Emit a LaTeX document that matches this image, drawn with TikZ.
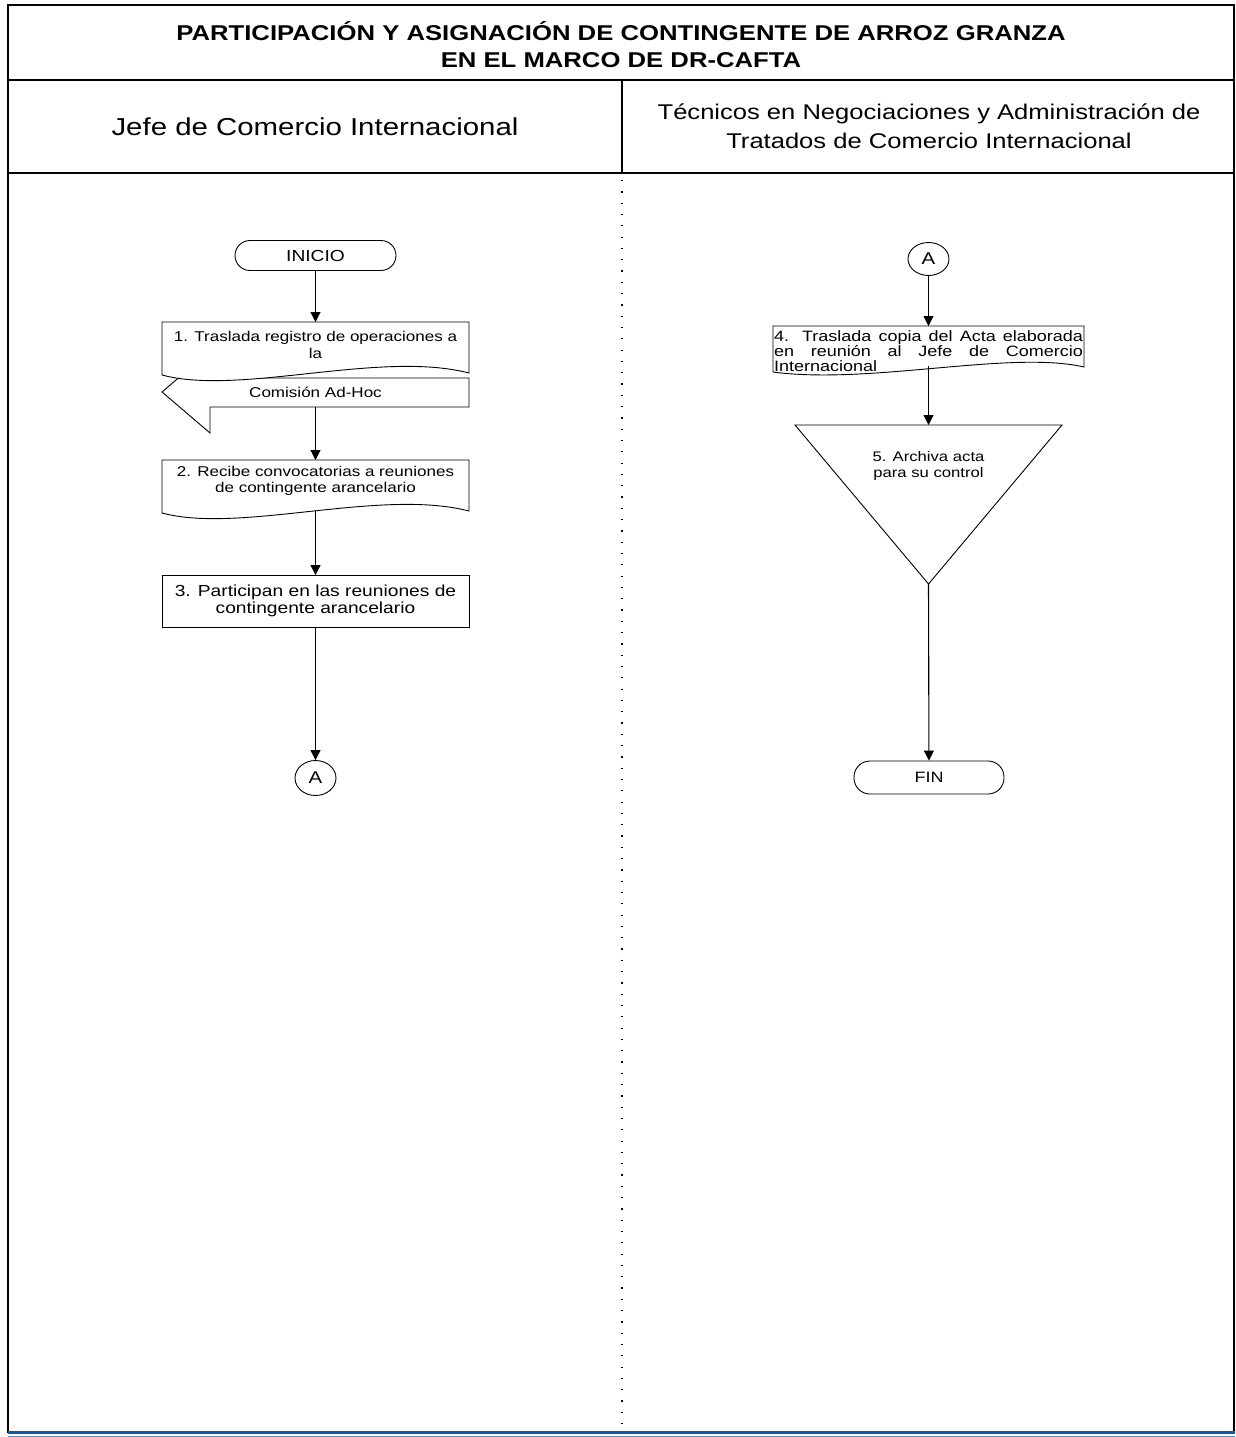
\documentclass[tikz,border=0pt]{standalone}
\usepackage{fontspec}
\setmainfont{Liberation Sans}[FakeStretch=1.2]
\usetikzlibrary{arrows.meta,shapes.geometric}
\definecolor{bluedark}{RGB}{16,88,170}
\definecolor{bluelight}{RGB}{80,145,215}
\begin{document}
\begin{tikzpicture}[x=1pt,y=-1pt,
  frame/.style={line width=1.8pt, line cap=rect},
  shp/.style={draw, line width=0.9pt, fill=white},
  conn/.style={line width=1.1pt, -{Triangle[length=10pt,width=10pt]}},
  txt/.style={inner sep=0pt, align=center, font=\fontsize{14.2}{16.3}\selectfont},
  lanetxt/.style={inner sep=0pt, align=center, font=\fontsize{24.5}{29}\selectfont},
  term/.style={draw, line width=0.9pt, rounded corners=15pt, minimum height=30pt, inner sep=0pt, font=\fontsize{16}{18}\selectfont},
  conbubble/.style={draw, ellipse, line width=0.9pt, minimum width=41pt, minimum height=35pt, inner sep=0pt, font=\fontsize{17}{18}\selectfont}
]
\useasboundingbox (0,0) rectangle (1235,1437);
\fill[white] (0,0) rectangle (1235,1437);

% frame and headers
\draw[frame] (8,5) rectangle (1234,1432);
\draw[frame] (8,80) -- (1234,80);
\draw[frame] (8,173) -- (1234,173);
\draw[frame] (622,80) -- (622,173);
\draw[line width=1.2pt, dash pattern=on 1.2pt off 10.1pt] (622,180) -- (622,1430);
\fill[bluedark] (8,1431) rectangle (1235,1434);
\fill[bluelight] (8,1435.5) rectangle (1235,1436.8);

\node[inner sep=0pt, align=center, font=\fontsize{21.4}{27}\selectfont\bfseries] (title) at (621,44.5)
  {PARTICIPACIÓN Y ASIGNACIÓN DE CONTINGENTE DE ARROZ GRANZA\\EN EL MARCO DE DR-CAFTA};
\node[lanetxt] (laneL) at (315,127) {Jefe de Comercio Internacional};
\node[lanetxt, font=\fontsize{21.3}{29}\selectfont] (laneR) at (929,126) {Técnicos en Negociaciones y Administración de\\Tratados de Comercio Internacional};

% left lane
\node[term, minimum width=161pt] (inicio) at (315.5,255.5) {INICIO};

% block arrow (off-page, left pointing) under document 1
\draw[shp] (469,378) -- (469,407) -- (210,407) -- (210,433) -- (162,392) -- (210,351) -- (210,378) -- cycle;
\node[txt] (n1b) at (315.5,392) {Comisión Ad-Hoc};
\coordinate (n1bb) at (315.5,407);

% document 1
\draw[shp] (162,322) -- (469,322) -- (469,373) .. controls (380,350) and (240,396) .. (162,375) -- cycle;
\node[txt] (n1) at (315.5,345) {1. Traslada registro de operaciones a\\la};
\coordinate (n1t) at (315.5,322);

% document 2
\draw[shp] (162,460) -- (469,460) -- (469,511) .. controls (380,488) and (240,534) .. (162,513) -- cycle;
\node[txt] (n2) at (315.5,481) {2. Recibe convocatorias a reuniones\\de contingente arancelario};
\coordinate (n2t) at (315.5,460);
\coordinate (n2b) at (315.5,511);

% process 3
\node[draw, line width=0.9pt, minimum width=307pt, minimum height=52pt, inner sep=0pt] (n3box) at (315.5,601.5) {};
\node[txt, font=\fontsize{16}{17}\selectfont] (n3) at (315.5,601) {3. Participan en las reuniones de\\contingente arancelario};

\node[conbubble] (aL) at (315.5,778) {A};

\draw[conn] (inicio) -- (n1t);
\draw[conn] (n1bb) -- (n2t);
\draw[conn] (n2b) -- (n3box);
\draw[conn] (n3box) -- (aL);

% right lane
\node[conbubble, minimum height=33pt] (aR) at (928.5,259) {A};

\draw[shp] (773,326) -- (1084,326) -- (1084,367) .. controls (1010,350) and (870,385) .. (773,372) -- cycle;
\node[inner sep=0pt, align=left, font=\fontsize{15}{15.2}\selectfont] (n4) at (928.5,351)
  {\makebox[309pt][s]{4. Traslada copia del Acta elaborada}\\\makebox[309pt][s]{en reunión al Jefe de Comercio}\\Internacional};
\coordinate (n4t) at (928.5,326);
\coordinate (n4b) at (928.5,366);

\draw[shp] (795,425) -- (1062,425) -- (928.5,584) -- cycle;
\coordinate (n5t) at (928.5,425);
\coordinate (n5b) at (928.5,584);
\node[txt, font=\fontsize{13.9}{16.3}\selectfont] (n5) at (928.5,466) {5. Archiva acta\\para su control};

\node[term, minimum width=150pt, minimum height=33pt, rounded corners=16pt, font=\fontsize{15}{17}\selectfont] (fin) at (929,777.5) {FIN};

\draw[conn] (aR) -- (n4t);
\draw[conn] (n4b) -- (n5t);
\draw[conn] (n5b) -- (fin);
\end{tikzpicture}
\end{document}
